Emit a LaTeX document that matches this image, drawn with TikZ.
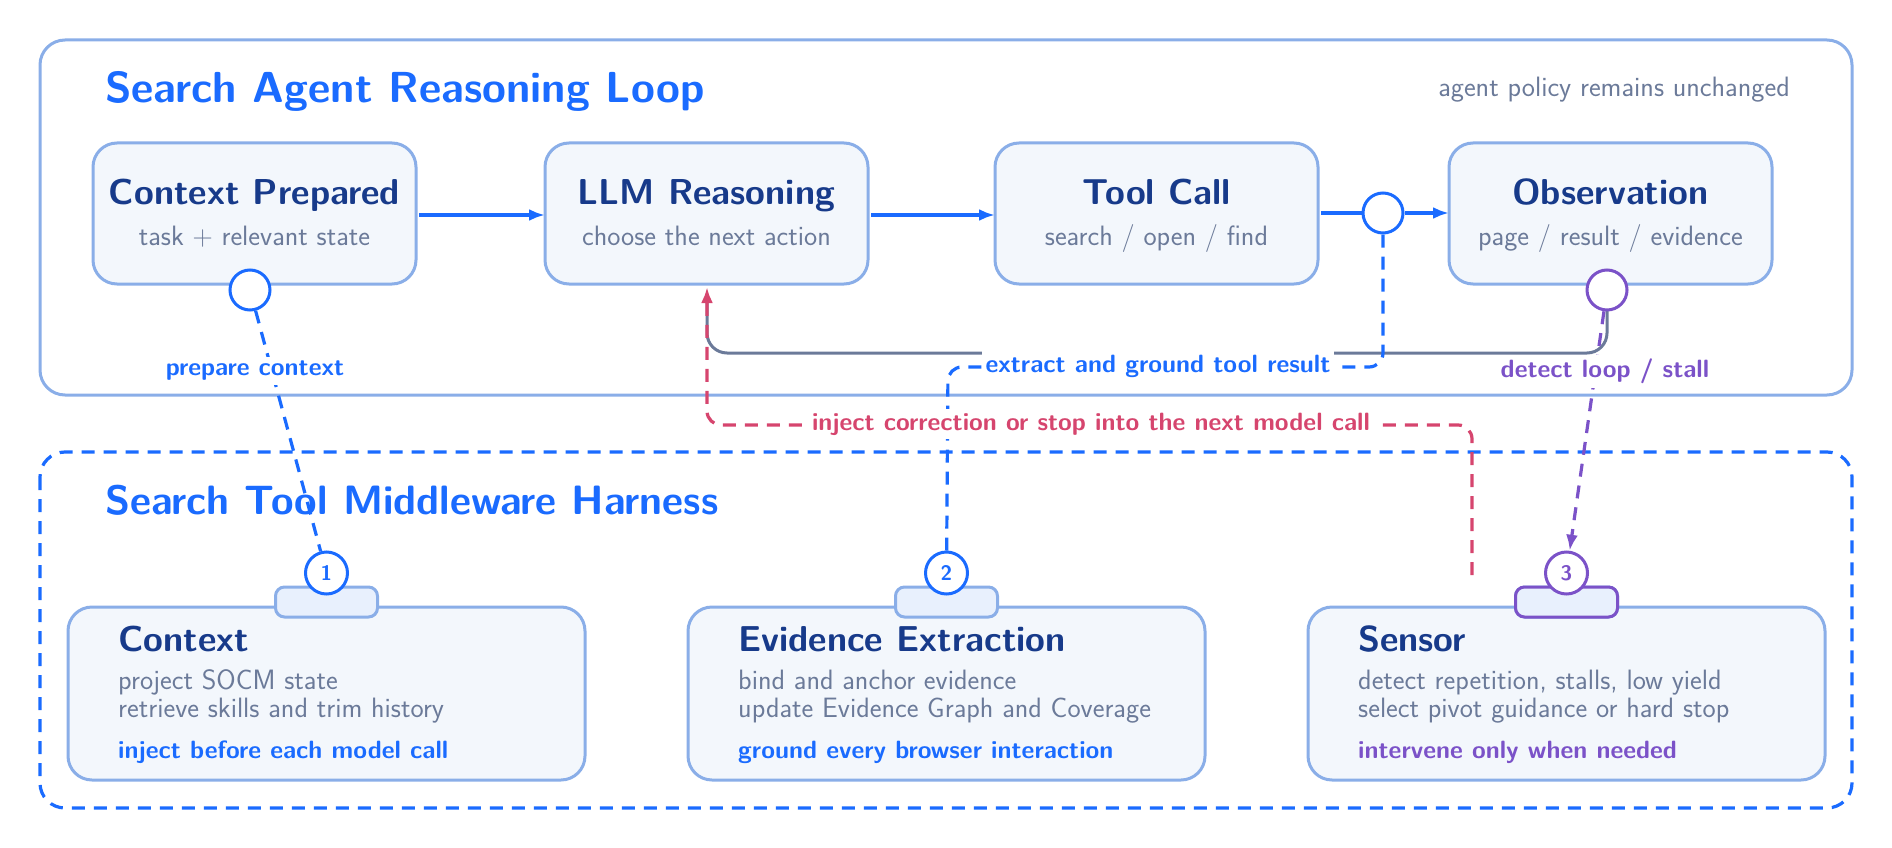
\documentclass[tikz,border=0pt]{standalone}
\usepackage{fix-cm}
\renewcommand\familydefault{\sfdefault}
\usetikzlibrary{arrows.meta}
\definecolor{frame}{HTML}{8AAEE8}
\definecolor{boxfill}{HTML}{F3F7FC}
\definecolor{tabfill}{HTML}{E8F0FD}
\definecolor{bl}{HTML}{1A6BFF}
\definecolor{navy}{HTML}{173A8A}
\definecolor{gr}{HTML}{6B7A99}
\definecolor{pu}{HTML}{7B52C8}
\definecolor{rd}{HTML}{D6456E}
\tikzset{
  box/.style={draw=frame,fill=boxfill,line width=3pt,rounded corners=24pt},
  fs/.style={font=\fontsize{#1}{#1}\selectfont},
  fb/.style={font=\fontsize{#1}{#1}\selectfont\bfseries},
  ttl/.style={fb=36,text=navy},
  sub/.style={fs=28,text=gr},
  arr/.style={draw=bl,line width=3.2pt,-{Latex[length=16pt,width=12pt]}},
  port/.style={circle,draw=#1,fill=white,line width=3pt,minimum size=40pt,inner sep=0pt},
  badge/.style={circle,draw=#1,fill=white,line width=3pt,minimum size=42pt,inner sep=0pt,text=#1,fb=21},
  tab/.style={draw=#1,fill=tabfill,line width=3pt,rounded corners=9pt,minimum width=102pt,minimum height=30pt},
  dsh/.style={line width=3.2pt,dash pattern=on 13pt off 9pt},
  lab/.style={fill=white,inner sep=4pt,fb=25,text=#1},
}
\begin{document}
\begin{tikzpicture}[x=1pt,y=-1pt]
\useasboundingbox (0,0) rectangle (1892,848);
% outer frames
\draw[draw=frame,line width=3pt,rounded corners=25pt] (40,40) rectangle (1852,395);
\draw[draw=bl,dsh,rounded corners=25pt] (40,452) rectangle (1852,808);
\node[anchor=base west,fb=43.4,text=bl,inner sep=0] (t1) at (105,103) {Search Agent Reasoning Loop};
\node[anchor=base east,fs=28,text=gr,inner sep=0] (t1r) at (1790,97) {agent policy remains unchanged};
\node[anchor=base west,fb=41,text=bl,inner sep=0] (t2) at (105,514) {Search Tool Middleware Harness};
% row boxes
\foreach \n/\x/\a/\b in {cp/93/Context Prepared/{task $+$ relevant state}, llm/545/LLM Reasoning/{choose the next action}, tc/995/Tool Call/{search / open / find}, ob/1449/Observation/{page / result / evidence}}{
  \draw[box] (\x,143) rectangle ++(323,141);
  \node[box,draw=none,fill=none,minimum width=323pt,minimum height=141pt,anchor=north west] (\n) at (\x,143) {};
  \node[ttl,inner sep=0,anchor=base] at (\x+161.5,204) {\a};
  \node[sub,inner sep=0,anchor=base] at (\x+161.5,245) {\b};
}
% grey return path
\draw[draw=gr,line width=3pt,rounded corners=20pt] (1607,300) -- (1607,353) -- (707,353) -- (707,300);
% arrows
\draw[arr] (cp.east |- 0,215) -- (llm.west |- 0,215);
\draw[arr] (llm.east |- 0,215) -- (tc.west |- 0,215);
\node[port=bl] (tp) at (1383,213) {};
\draw[draw=bl,line width=3.2pt] (tc.east |- 0,213) -- (tp);
\draw[arr] (tp) -- (ob.west |- 0,213);
\node[port=bl] (cpp) at (250,290) {};
\node[port=pu] (obp) at (1607,290) {};
% lower boxes
\foreach \n/\x/\c/\a/\b/\cc/\d in {cx/68/bl/Context/project SOCM state/retrieve skills and trim history/inject before each model call,
  ev/688/bl/Evidence Extraction/bind and anchor evidence/update Evidence Graph and Coverage/ground every browser interaction,
  se/1308/pu/Sensor/{detect repetition, stalls, low yield}/select pivot guidance or hard stop/intervene only when needed}{
  \draw[box] (\x,607) rectangle ++(517,173);
  \node[tab=frame] (tab\n) at (\x+258.5,602) {};
  \node[anchor=base west,inner sep=0,fb=36,text=navy] at (\x+50,651) {\a};
  \node[anchor=base west,inner sep=0,sub] at (\x+50,689) {\b};
  \node[anchor=base west,inner sep=0,sub] at (\x+50,717) {\cc};
  \node[anchor=base west,inner sep=0,fb=25,text=\c] at (\x+50,758) {\d};
}
\node[tab=pu] at (1566.5,602) {};
\node[badge=bl] (b1) at (326.5,573) {1};
\node[badge=bl] (b2) at (946.5,573) {2};
\node[badge=pu] (b3) at (1566.5,573) {3};
% connectors
\draw[draw=bl,dsh] (cpp) -- (b1);
\node[lab=bl] at (255,371) {prepare context};
\draw[draw=bl,dsh,rounded corners=14pt] (tp) -- (1383,367) -- (948,367) -- (b2);
\node[lab=bl] at (1158,366) {extract and ground tool result};
\draw[draw=rd,dsh,rounded corners=14pt,-{Latex[length=16pt,width=12pt]}] (1472,575) -- (1472,425) -- (707,425) -- (llm.south -| 707,0);
\node[lab=rd] at (1091,424) {inject correction or stop into the next model call};
\draw[draw=pu,dsh,-{Latex[length=16pt,width=12pt]}] (obp) -- (b3);
\node[lab=pu] at (1605,371) {detect loop / stall};
\end{tikzpicture}
\end{document}
